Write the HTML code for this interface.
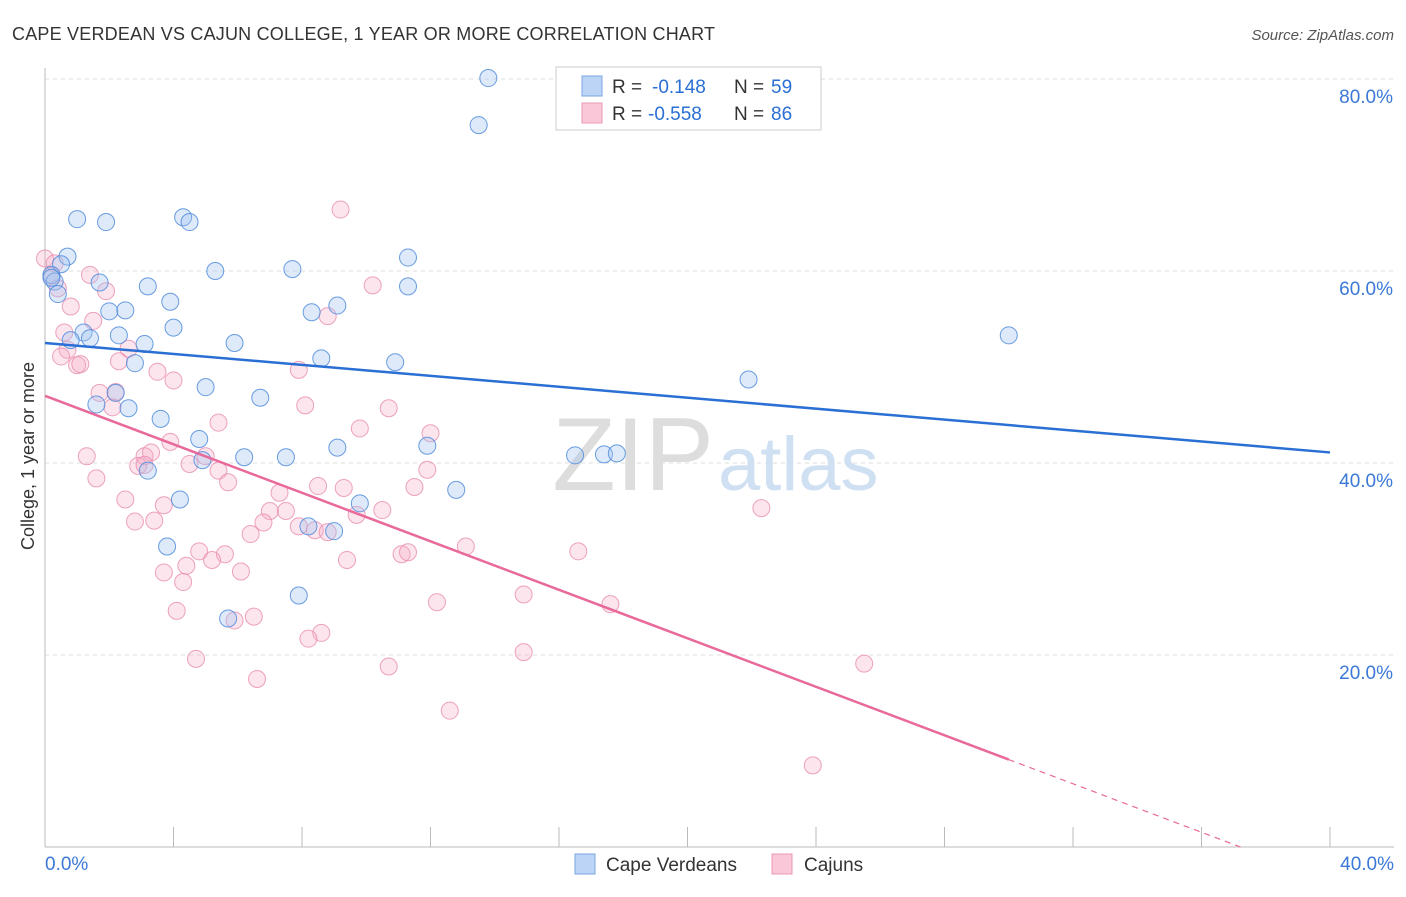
<!DOCTYPE html>
<html><head><meta charset="utf-8"><style>
body{margin:0;background:#fff;font-family:"Liberation Sans",sans-serif;}
svg text{font-family:"Liberation Sans",sans-serif;}
</style></head><body>
<svg id="chart" width="1406" height="892">
<text x="12" y="40" font-size="18" fill="#333" textLength="703">CAPE VERDEAN VS CAJUN COLLEGE, 1 YEAR OR MORE CORRELATION CHART</text>
<text x="1394" y="40" font-size="15" fill="#555" font-style="italic" text-anchor="end">Source: ZipAtlas.com</text>
<text transform="translate(34,456) rotate(-90)" font-size="18" fill="#333" text-anchor="middle">College, 1 year or more</text>
<g id="grid"></g>
<text x="714" y="490" font-size="104" fill="#ddd" text-anchor="end" font-family="Liberation Serif">ZIP</text>
<text x="718" y="490" font-size="76" fill="#cfe0f3">atlas</text>
<g id="pts"></g>
<g id="lines"></g>
<g>
<rect x="556" y="67" width="265" height="63" fill="#fff" stroke="#ccc"/>
<rect x="582" y="76" width="20" height="20" fill="#bcd4f5" stroke="#7aa6e0"/>
<rect x="582" y="103" width="20" height="20" fill="#f9c7d7" stroke="#e99ab5"/>
<text x="612" y="93" font-size="19" fill="#333">R =</text>
<text x="652" y="93" font-size="19" fill="#2a6fd4">-0.148</text>
<text x="734" y="93" font-size="19" fill="#333">N =</text>
<text x="771" y="93" font-size="19" fill="#2a6fd4">59</text>
<text x="612" y="120" font-size="19" fill="#333">R =</text>
<text x="648" y="120" font-size="19" fill="#2a6fd4">-0.558</text>
<text x="734" y="120" font-size="19" fill="#333">N =</text>
<text x="771" y="120" font-size="19" fill="#2a6fd4">86</text>
</g>
<g>
<rect x="575" y="854" width="20" height="20" fill="#bcd4f5" stroke="#7aa6e0"/>
<text x="606" y="871" font-size="19" fill="#333">Cape Verdeans</text>
<rect x="772" y="854" width="20" height="20" fill="#f9c7d7" stroke="#e99ab5"/>
<text x="804" y="871" font-size="19" fill="#333">Cajuns</text>
</g>
</svg>
<script>
const X0=45,X1=1330,Y0=847,YS=192/20;
const xTicks=[0,4,8,12,16,20,24,28,32,36,40];
const yTicks=[20,40,60,80];
const blueX=[13.8,13.5,1.0,1.9,4.3,4.5,0.7,0.5,0.2,0.3,0.4,1.7,3.2,5.3,7.7,11.3,11.3,3.9,2.0,2.5,8.3,9.1,1.2,1.4,0.8,2.3,3.1,4.0,5.9,2.8,8.6,10.9,5.0,2.2,1.6,2.6,6.7,3.6,4.8,4.9,6.2,7.5,9.1,11.9,16.5,17.4,17.8,12.8,4.2,3.2,9.8,8.2,9.0,3.8,7.9,5.7,21.9,30.0,0.2];
const blueY=[80.1,75.2,65.4,65.1,65.6,65.1,61.5,60.7,59.6,58.9,57.6,58.8,58.4,60.0,60.2,61.4,58.4,56.8,55.8,55.9,55.7,56.4,53.6,53.0,52.8,53.3,52.4,54.1,52.5,50.4,50.9,50.5,47.9,47.3,46.1,45.7,46.8,44.6,42.5,40.3,40.6,40.6,41.6,41.8,40.8,40.9,41.0,37.2,36.2,39.2,35.8,33.4,32.9,31.3,26.2,23.8,48.7,53.3,59.3];
const pinkX=[0.0,0.3,0.2,0.4,1.4,1.9,0.8,0.6,1.5,0.7,0.5,1.0,1.1,2.6,2.3,9.2,10.2,8.8,3.5,4.0,7.9,1.7,2.2,2.1,8.1,10.7,5.4,9.8,12.0,1.3,3.1,3.3,3.9,5.0,4.5,2.9,3.1,5.4,5.7,11.9,11.5,8.5,9.3,1.6,7.3,2.5,3.7,7.0,7.5,10.5,9.7,6.8,2.8,3.4,7.9,8.4,8.8,4.8,6.4,13.1,16.6,5.6,9.4,5.2,11.1,11.3,3.7,6.1,4.4,4.3,14.9,12.2,17.6,5.9,4.1,8.6,8.2,14.9,4.7,10.7,25.5,6.6,12.6,23.9,22.3,6.5];
const pinkY=[61.3,60.8,59.5,58.2,59.6,57.9,56.3,53.6,54.8,51.8,51.1,50.2,50.3,51.9,50.6,66.4,58.5,55.3,49.5,48.6,49.7,47.3,47.4,45.8,46.0,45.7,44.2,43.6,43.1,40.7,40.7,41.1,42.2,40.7,39.9,39.7,39.8,39.2,38.0,39.3,37.5,37.6,37.4,38.4,36.9,36.2,35.6,35.0,35.0,35.1,34.6,33.8,33.9,34.0,33.4,33.0,32.8,30.8,32.6,31.3,30.8,30.5,29.9,29.9,30.5,30.7,28.6,28.7,29.3,27.6,26.3,25.5,25.3,23.6,24.6,22.3,21.7,20.3,19.6,18.8,19.1,17.5,14.2,8.5,35.3,24.0];
// trend lines: [intercept, slope] in % units
const blueTrend=[52.5,-0.285];
const pinkTrend=[47.0,-1.263];
const pinkSolidEnd=30.0;
const X=v=>X0+(X1-X0)*v/40, Y=v=>Y0-v*YS;
const ns="http://www.w3.org/2000/svg";
function mk(tag,attrs,parent){const e=document.createElementNS(ns,tag);for(const k in attrs)e.setAttribute(k,attrs[k]);parent.appendChild(e);return e;}
const grid=document.getElementById('grid');
const ax=mk('line',{x1:X0,y1:68,x2:X0,y2:Y0,stroke:'#bbb'},grid);


const bx=mk('line',{x1:X0,y1:Y0,x2:1394,y2:Y0,stroke:'#bbb'},grid);


yTicks.forEach(t=>{
 const g=mk('line',{x1:X0,y1:Y(t),x2:1394,y2:Y(t),stroke:'#ddd','stroke-dasharray':'4,4'},grid);
 
 
 const l=mk('text',{x:1393,y:Y(t)+24,'font-size':19,fill:'#3b78d8','text-anchor':'end'},grid);l.textContent=t.toFixed(1)+'%';
 
 
});
xTicks.forEach(t=>{
 const g=mk('line',{x1:X(t),y1:Y0,x2:X(t),y2:Y0-20,stroke:'#bbb'},grid);
 
 
});
[[0,'start',45],[40,'end',1394]].forEach(([t,a,x])=>{
 const l=mk('text',{x:x,y:870,'font-size':19,fill:'#3b78d8','text-anchor':a},grid);l.textContent=t.toFixed(1)+'%';
 
 
});
const pts=document.getElementById('pts');
pinkX.forEach((v,i)=>{const c=mk('circle',{cx:X(v),cy:Y(pinkY[i]),r:8.5,fill:'rgba(245,170,195,0.3)',stroke:'rgba(232,140,175,0.8)','stroke-width':1},pts);
 
 });
blueX.forEach((v,i)=>{const c=mk('circle',{cx:X(v),cy:Y(blueY[i]),r:8.5,fill:'rgba(160,195,240,0.35)',stroke:'rgba(80,140,220,0.85)','stroke-width':1},pts);
 
 });
const lines=document.getElementById('lines');
const bl=mk('line',{x1:X(0),y1:Y(blueTrend[0]),x2:X(40),y2:Y(blueTrend[0]+blueTrend[1]*40),stroke:'#2a6fd4','stroke-width':2.5},lines);


const [pa,pb]=pinkTrend;
const pl=mk('line',{x1:X(0),y1:Y(pa),x2:X(pinkSolidEnd),y2:Y(pa+pb*pinkSolidEnd),stroke:'#e8699a','stroke-width':2.5},lines);


const xe=Math.min(40,-pa/pb);
const pd=mk('line',{x1:X(pinkSolidEnd),y1:Y(pa+pb*pinkSolidEnd),x2:X(xe),y2:Y(pa+pb*xe),stroke:'#e8699a','stroke-width':1.2,'stroke-dasharray':'6,5'},lines);


</script>
</body></html>
